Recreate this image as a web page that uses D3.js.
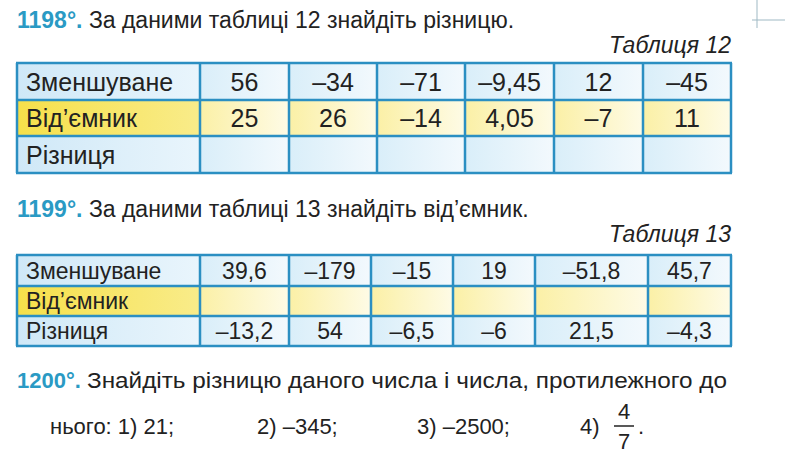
<!DOCTYPE html>
<html><head><meta charset="utf-8">
<script src="https://cdn.jsdelivr.net/npm/d3@7"></script>
<style>body{margin:0;background:#fff}svg{display:block;font-family:"Liberation Sans",Arial,sans-serif}</style>
</head><body>
<script>
// ---- data ----
const rowLabels = ["Зменшуване", "Від’ємник", "Різниця"];
const t12Minuend = ["56", "–34", "–71", "–9,45", "12", "–45"];
const t12Subtrahend = ["25", "26", "–14", "4,05", "–7", "11"];
const t12Difference = ["", "", "", "", "", ""];
const t13Minuend = ["39,6", "–179", "–15", "19", "–51,8", "45,7"];
const t13Subtrahend = ["", "", "", "", "", ""];
const t13Difference = ["–13,2", "54", "–6,5", "–6", "21,5", "–4,3"];
const items1200 = ["нього: 1) 21;", "2) –345;", "3) –2500;", "4)"];

// ---- layout ----
const W = 785, H = 453;
const svg = d3.select("body").append("svg").attr("width", W).attr("height", H);
const defs = svg.append("defs");
function grad(id, c1, c2) {
  const g = defs.append("linearGradient").attr("id", id);
  g.append("stop").attr("offset", "0").attr("stop-color", c1);
  g.append("stop").attr("offset", "1").attr("stop-color", c2);
}
grad("blueL", "#cfe8f7", "#e9f5fc");
grad("blueC", "#d9eef9", "#f3f9fd");
grad("yelL", "#f6e04a", "#f9ec8a");
grad("yelC", "#fbf0a6", "#fefbe6");
const border = "#2b8fc2";

svg.append("line").attr("x1", 752).attr("x2", 785).attr("y1", 20).attr("y2", 20).attr("stroke", "#9fb9c4");
svg.append("line").attr("x1", 757).attr("x2", 757).attr("y1", 0).attr("y2", 28).attr("stroke", "#9fb9c4");

function heading(y, num, text, fs, len) {
  const t = svg.append("text").attr("x", 17).attr("y", y).attr("font-size", fs).attr("fill", "#222");
  t.append("tspan").attr("fill", "#2a9ac4").attr("font-weight", "bold").text(num + "°. ");
  const s = t.append("tspan").text(text);
  if (len) s.attr("textLength", len).attr("lengthAdjust", "spacingAndGlyphs");
}
function caption(y, text) {
  svg.append("text").attr("x", 731).attr("y", y).attr("text-anchor", "end")
    .attr("font-size", 23).attr("font-style", "italic").attr("fill", "#222").text(text);
}
function table(colEdges, rowEdges, rows, fs) {
  const g = svg.append("g");
  const nC = colEdges.length - 1;
  const x = d3.scaleLinear().domain(d3.range(colEdges.length)).range(colEdges);
  const y = d3.scaleLinear().domain(d3.range(rowEdges.length)).range(rowEdges);
  rows.forEach((vals, r) => {
    const yellow = r === 1;
    const cells = [rowLabels[r]].concat(vals);
    g.selectAll(null).data(cells).enter().append("rect")
      .attr("x", (d, i) => x(i)).attr("y", y(r))
      .attr("width", (d, i) => x(i + 1) - x(i)).attr("height", y(r + 1) - y(r))
      .attr("fill", (d, i) => `url(#${yellow ? "yel" : "blue"}${i === 0 ? "L" : "C"})`);
    g.selectAll(null).data(cells).enter().append("text")
      .attr("x", (d, i) => i === 0 ? x(0) + 9 : (x(i) + x(i + 1)) / 2)
      .attr("y", (y(r) + y(r + 1)) / 2 + fs * 0.36)
      .attr("text-anchor", (d, i) => i === 0 ? "start" : "middle")
      .attr("font-size", fs).attr("fill", "#222").text(d => d);
  });
  g.selectAll(null).data(colEdges).enter().append("line")
    .attr("x1", d => d).attr("x2", d => d).attr("y1", rowEdges[0]).attr("y2", rowEdges[rowEdges.length - 1])
    .attr("stroke", border).attr("stroke-width", 2.5);
  g.selectAll(null).data(rowEdges).enter().append("line")
    .attr("y1", d => d).attr("y2", d => d).attr("x1", colEdges[0] - 1).attr("x2", colEdges[nC] + 1)
    .attr("stroke", border).attr("stroke-width", 2.5);
}

heading(28, "1198", "За даними таблиці 12 знайдіть різницю.", 23);
caption(53, "Таблиця 12");
table([17, 200, 289, 377, 465, 554, 643, 731], [63, 100, 136, 173],
  [t12Minuend, t12Subtrahend, t12Difference], 25);

heading(217, "1199", "За даними таблиці 13 знайдіть від’ємник.", 23);
caption(242, "Таблиця 13");
table([17, 200, 289, 371, 453, 535, 648, 731], [255, 286, 316, 346],
  [t13Minuend, t13Subtrahend, t13Difference], 23);

heading(388, "1200", "Знайдіть різницю даного числа і числа, протилежного до", 22, 640);
const itemX = [50, 257, 417, 580];
svg.selectAll(null).data(items1200).enter().append("text")
  .attr("x", (d, i) => itemX[i]).attr("y", 434).attr("font-size", 22).attr("fill", "#222").text(d => d);
svg.append("text").attr("x", 624).attr("y", 419).attr("text-anchor", "middle").attr("font-size", 22).attr("fill", "#222").text("4");
svg.append("line").attr("x1", 614).attr("x2", 634).attr("y1", 426).attr("y2", 426).attr("stroke", "#222").attr("stroke-width", 1.5);
svg.append("text").attr("x", 624).attr("y", 449).attr("text-anchor", "middle").attr("font-size", 22).attr("fill", "#222").text("7");
svg.append("text").attr("x", 638).attr("y", 434).attr("font-size", 22).attr("fill", "#222").text(".");
</script>
</body></html>
